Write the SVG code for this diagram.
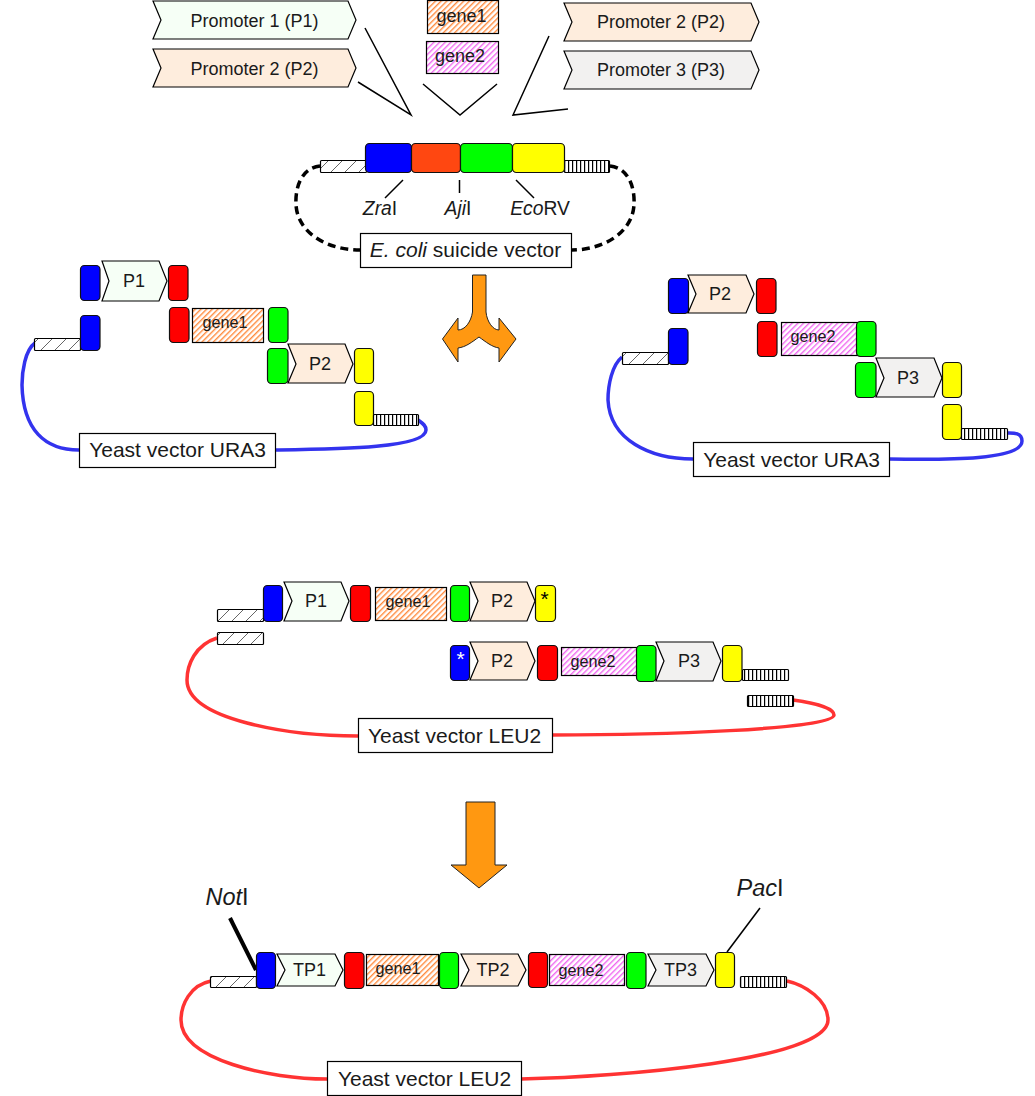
<svg xmlns="http://www.w3.org/2000/svg" width="1035" height="1096" viewBox="0 0 1035 1096">
<style>
text{font-family:"Liberation Sans",Arial,sans-serif;fill:#1a1a1a;text-anchor:middle}
.t{font-size:18px}.s{font-size:16.200px}.v{font-size:21px}.r{font-size:19.300px}.e{font-size:23.500px}
.b,.o,.g,.y,.bar{stroke:#111;stroke-width:1.2}
.b{fill:#0000ff}.o{fill:#ff0000}.g{fill:#00ff00}.y{fill:#ffff00}
.p1,.p2,.p3,.h1,.h2,.hl,.hr,.box{stroke:#000;stroke-width:1.2}
.p1{fill:#f6fff6}.p2{fill:#feeddd}.p3{fill:#f2f1f0}
.h1{fill:url(#hg1)}.h2{fill:url(#hg2)}.hl{fill:url(#hleft)}.hr{fill:url(#hright)}
.box{fill:#fff}
.ln{fill:none;stroke:#000;stroke-width:1.5}
.dash{fill:none;stroke:#000;stroke-width:3.5;stroke-dasharray:8 5}
.blue{fill:none;stroke:#3333ee;stroke-width:3.5}
.red{fill:none;stroke:#ff3333;stroke-width:3.5}
.arr{fill:#ff9811;stroke:#222;stroke-width:1}
</style>
<defs>
<pattern id="hg1" width="4" height="4" patternUnits="userSpaceOnUse" patternTransform="rotate(-45)"><rect width="4" height="4" fill="#fff"/><rect width="4" height="1.400" fill="#ff8a3c"/></pattern>
<pattern id="hg2" width="4" height="4" patternUnits="userSpaceOnUse" patternTransform="rotate(-45)"><rect width="4" height="4" fill="#fff"/><rect width="4" height="1.400" fill="#f066f0"/></pattern>
<pattern id="hleft" width="14" height="14" patternUnits="userSpaceOnUse" patternTransform="translate(0 -1)"><rect width="14" height="14" fill="#fff"/><path d="M0 14L14 0" stroke="#666" stroke-width="1"/></pattern>
<pattern id="hright" width="4" height="12" patternUnits="userSpaceOnUse"><rect width="4" height="12" fill="#fff"/><rect width="1.200" height="12" fill="#000"/></pattern>
</defs>

<g id="connectors">
<path class="ln" d="M365 28L411 115L358 82"/>
<path class="ln" d="M423 84L460 115L497 84"/>
<path class="ln" d="M549 36L513 115L568 109"/>
<path class="ln" d="M403 180L385 198M459.500 180V193M516 180L534 198"/>
<path class="dash" d="M320 166C300 168 295 190 296 205C298 235 330 250 360 250"/>
<path class="dash" d="M610 166C630 168 635 190 634 205C632 235 600 250 572 250"/>
<path class="blue" d="M35 343C25 350 22 372 22 385C23 430 45 450 79 450"/>
<path class="blue" d="M275 450C340 449 426 448 426 430C426 425 422 423 418 420"/>
<path class="blue" d="M622 357C612 365 608 385 608 400C610 440 650 459 693 459"/>
<path class="blue" d="M889 459C950 460 1022 460 1022 441C1022 432 1012 433 1007 433"/>
<path class="red" d="M217 638C195 645 187 665 187 680C187 720 290 736 358 736"/>
<path class="red" d="M552 735C650 735 834 730 834 715C834 708 815 703 793 700"/>
<path class="red" d="M211 981C190 985 181 1005 181 1020C181 1060 270 1079 327 1079"/>
<path class="red" d="M521 1079C620 1077 828 1060 828 1020C828 1000 805 985 787 981"/>
<path fill="none" stroke="#000" stroke-width="4" d="M230 918L256 970"/>
<path class="ln" d="M760 908L727 952"/>
</g>

<g id="promoter-p1-top"><polygon class="p1" points="153,1 348,1 356,20 348,39 153,39 161,20"/><text class="t" x="254.500" y="27">Promoter 1 (P1)</text></g>
<g id="promoter-p2-top"><polygon class="p2" points="153,49 348,49 356,68 348,87 153,87 161,68"/><text class="t" x="254.500" y="75">Promoter 2 (P2)</text></g>
<g id="gene1-top"><rect class="h1" x="427.500" y="0.500" width="71" height="33"/><text class="t" x="461.500" y="22">gene1</text></g>
<g id="gene2-top"><rect class="h2" x="426.500" y="41.500" width="72" height="32"/><text class="t" x="460" y="62">gene2</text></g>
<g id="promoter-p2-right"><polygon class="p2" points="564,3 751,3 759,22 751,41 564,41 572,22"/><text class="t" x="661" y="28">Promoter 2 (P2)</text></g>
<g id="promoter-p3-right"><polygon class="p3" points="564,51 751,51 759,70 751,89 564,89 572,70"/><text class="t" x="661" y="76">Promoter 3 (P3)</text></g>

<g id="suicide-vector-cassette">
<rect class="hl" x="320.500" y="160.500" width="46" height="12" rx="1"/>
<rect class="hr" x="564.500" y="160.500" width="45" height="12" rx="1"/>
<rect class="b" x="365.500" y="143.500" width="46" height="29" rx="4"/>
<rect fill="#ff4711" stroke="#111" stroke-width="1.200" x="411.500" y="143.500" width="49" height="29" rx="4"/>
<rect class="g" x="460.500" y="143.500" width="52" height="29" rx="4"/>
<rect class="y" x="512.500" y="143.500" width="52" height="29" rx="4"/>
</g>
<g id="label-zrai"><text class="r" x="380" y="215"><tspan font-style="italic">Zra</tspan>I</text></g>
<g id="label-ajii"><text class="r" x="458" y="215"><tspan font-style="italic">Aji</tspan>I</text></g>
<g id="label-ecorv"><text class="r" x="540" y="215"><tspan font-style="italic">Eco</tspan>RV</text></g>
<g id="suicide-vector-label"><rect class="box" x="360.500" y="233.500" width="211" height="34"/><text class="v" x="465.500" y="257"><tspan font-style="italic">E. coli</tspan> suicide vector</text></g>

<g id="fork-arrow"><path class="arr" d="M472.500 275H486V312C487 322 493 330 499 330V318L516 339L499 362V348C492 347 486 342 479 337C472 342 466 347 458 348V362L442.500 339L458 318V330C465 330 471 322 472.500 312Z"/></g>

<g id="left-assembly">
<rect class="b" x="80.500" y="265.500" width="19.500" height="35" rx="4"/>
<polygon class="p1" points="102,261 159,261 167,281 159,301 102,301 109,281"/><text class="t" x="134" y="287">P1</text>
<rect class="o" x="168.500" y="265.500" width="19.500" height="35" rx="4"/>
<rect class="hl" x="34.500" y="338.500" width="46" height="12" rx="1"/>
<rect class="b" x="80.500" y="315.500" width="19.500" height="35" rx="4"/>
<rect class="o" x="169.500" y="307.500" width="19.500" height="35" rx="4"/>
<rect class="h1" x="192.500" y="308.500" width="71" height="34"/><text class="s" x="225" y="328">gene1</text>
<rect class="g" x="268.500" y="307.500" width="19.500" height="35" rx="4"/>
<rect class="g" x="267.500" y="348.500" width="20.500" height="35" rx="4"/>
<polygon class="p2" points="288,344 345,344 353,364 345,383 288,383 296,364"/><text class="t" x="320" y="370">P2</text>
<rect class="y" x="354.500" y="348.500" width="19" height="35" rx="4"/>
<rect class="y" x="354.500" y="391.500" width="19" height="34" rx="4"/>
<rect class="hr" x="373.500" y="414.500" width="45" height="11" rx="1"/>
<rect class="box" x="79.500" y="433.500" width="196" height="34"/><text class="v" x="177.500" y="457">Yeast vector URA3</text>
</g>

<g id="right-assembly">
<rect class="b" x="668.500" y="278.500" width="20" height="35" rx="4"/>
<polygon class="p2" points="688,275 746,275 754,294 746,313 688,313 696,294"/><text class="t" x="720" y="300">P2</text>
<rect class="o" x="756.500" y="278.500" width="19.500" height="35" rx="4"/>
<rect class="hl" x="622.500" y="352.500" width="46" height="12" rx="1"/>
<rect class="b" x="668.500" y="328.500" width="19.500" height="36" rx="4"/>
<rect class="o" x="757.500" y="321.500" width="19.500" height="35" rx="4"/>
<rect class="h2" x="781.500" y="322.500" width="76" height="33"/><text class="s" x="813" y="342">gene2</text>
<rect class="g" x="856.500" y="321.500" width="19.500" height="35" rx="4"/>
<rect class="g" x="855.500" y="362.500" width="20.500" height="35" rx="4"/>
<polygon class="p3" points="876,358 934,358 942,378 934,397 876,397 884,378"/><text class="t" x="908" y="384">P3</text>
<rect class="y" x="942.500" y="362.500" width="19" height="35" rx="4"/>
<rect class="y" x="942.500" y="404.500" width="19" height="35" rx="4"/>
<rect class="hr" x="961.500" y="428.500" width="46" height="11" rx="1"/>
<rect class="box" x="693.500" y="442.500" width="196" height="34"/><text class="v" x="791.500" y="466.500">Yeast vector URA3</text>
</g>

<g id="leu2-upper-fragment">
<rect class="hl" x="217.500" y="609.500" width="46" height="12" rx="1"/>
<rect class="b" x="263.500" y="585.500" width="19" height="36" rx="4"/>
<polygon class="p1" points="284,582 341,582 349,601 341,621 284,621 292,601"/><text class="t" x="316" y="607">P1</text>
<rect class="o" x="350.500" y="585.500" width="20" height="36" rx="4"/>
<rect class="h1" x="375.500" y="587.500" width="71" height="33"/><text class="s" x="408" y="607">gene1</text>
<rect class="g" x="450.500" y="585.500" width="19" height="36" rx="4"/>
<polygon class="p2" points="470,582 527,582 535,601 527,621 470,621 478,601"/><text class="t" x="502" y="607">P2</text>
<rect class="y" x="535.500" y="585.500" width="20" height="36" rx="4"/>
<text x="544.500" y="606" font-size="21" style="fill:#000">*</text>
</g>
<g id="leu2-lower-fragment">
<rect class="b" x="450.500" y="645.500" width="19" height="35" rx="4"/>
<text x="460.500" y="666" font-size="21" style="fill:#fff">*</text>
<polygon class="p2" points="470,642 527,642 535,661 527,680 470,680 478,661"/><text class="t" x="502" y="667">P2</text>
<rect class="o" x="537.500" y="645.500" width="20" height="35" rx="4"/>
<rect class="h2" x="561.500" y="647.500" width="76" height="28"/><text class="s" x="593" y="667">gene2</text>
<rect class="g" x="636.500" y="645.500" width="19.500" height="36" rx="4"/>
<polygon class="p3" points="656,642 713,642 721,661 713,681 656,681 664,661"/><text class="t" x="689" y="667">P3</text>
<rect class="y" x="722.500" y="645.500" width="19.500" height="36" rx="4"/>
<rect class="hr" x="742.500" y="669.500" width="46" height="11" rx="1"/>
</g>
<g id="leu2-vector">
<rect class="hl" x="217.500" y="632.500" width="46" height="12" rx="1"/>
<rect class="hr" x="747.500" y="695.500" width="46" height="11" rx="1"/>
<rect class="box" x="358.500" y="718.500" width="194" height="34"/><text class="v" x="454.500" y="743">Yeast vector LEU2</text>
</g>

<g id="down-arrow"><path class="arr" d="M466 802H495V865H507L479 888L451 865H466Z"/></g>

<g id="final-construct">
<rect class="hl" x="210.500" y="976.500" width="46" height="11" rx="1"/>
<rect class="b" x="256.500" y="952.500" width="19" height="36" rx="4"/>
<polygon class="p1" points="277,954 335,954 343,970 335,986 277,986 285,970"/><text class="t" x="309.500" y="976">TP1</text>
<rect class="o" x="344.500" y="952.500" width="19.500" height="36" rx="4"/>
<rect class="h1" x="366.500" y="954.500" width="72" height="31"/><text class="s" x="398" y="974">gene1</text>
<rect class="g" x="439.500" y="952.500" width="19" height="36" rx="4"/>
<polygon class="p2" points="461,954 518,954 526,970 518,986 461,986 469,970"/><text class="t" x="493" y="976">TP2</text>
<rect class="o" x="528.500" y="952.500" width="19" height="35" rx="4"/>
<rect class="h2" x="549.500" y="954.500" width="75" height="31"/><text class="s" x="581" y="976">gene2</text>
<rect class="g" x="626.500" y="952.500" width="19.500" height="36" rx="4"/>
<polygon class="p3" points="648,954 706,954 714,970 706,986 648,986 656,970"/><text class="t" x="680.500" y="976">TP3</text>
<rect class="y" x="715.500" y="952.500" width="19" height="35" rx="4"/>
<rect class="hr" x="740.500" y="976.500" width="46" height="11" rx="1"/>
<rect class="box" x="327.500" y="1061.500" width="194" height="34"/><text class="v" x="424.500" y="1086">Yeast vector LEU2</text>
</g>
<g id="label-noti"><text class="e" x="227" y="905"><tspan font-style="italic">Not</tspan>I</text></g>
<g id="label-paci"><text class="e" x="760" y="896"><tspan font-style="italic">Pac</tspan>I</text></g>
</svg>
